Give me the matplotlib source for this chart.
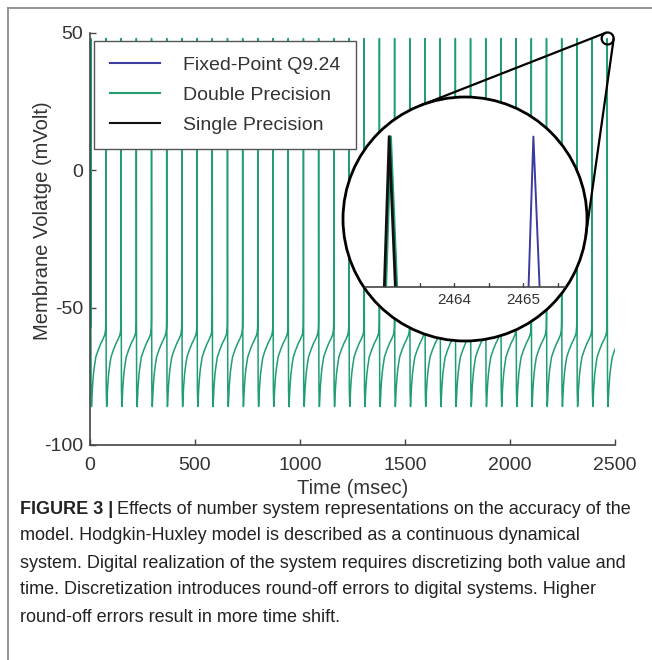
import numpy as np
import matplotlib
matplotlib.use("Agg")
import matplotlib.pyplot as plt
from matplotlib.patches import Circle
from matplotlib.lines import Line2D

plt.rcParams['font.family'] = ['Liberation Sans', 'DejaVu Sans']
plt.rcParams['axes.unicode_minus'] = False

# spike peak times of the double precision run (ms)
double_spikes = [3.6, 75.9, 148.3, 220.6, 293.0, 365.3, 437.6, 510.0, 582.3,
                 654.7, 727.0, 799.3, 871.7, 944.0, 1016.4, 1088.7, 1161.0,
                 1233.4, 1305.7, 1378.1, 1450.4, 1522.7, 1595.1, 1667.4,
                 1739.8, 1812.1, 1884.4, 1956.8, 2029.1, 2101.5, 2173.8,
                 2246.1, 2318.5, 2390.8, 2463.08]

# one action potential and its recovery: time from the peak (ms), voltage (mV)
wave_dt = [-1.2, -0.6, -0.3, -0.07, 0.0, 0.09, 0.5, 1.5, 3.5, 5.0, 8.0,
           13.0, 18.0, 24.0, 35.0, 48.0, 58.0, 66.0, 69.0, 71.0]
wave_mv = [-57, -55, -45, 0, 48, 0, -50, -80, -86, -84, -79,
           -74, -71, -68, -65.5, -63, -61.5, -60, -59, -57.5]

# last spike of each run, shown in the magnifier
series_names = ['Fixed-Point Q9.24', 'Double Precision', 'Single Precision']
series_colors = ['#3b3ba0', '#1f9e6e', '#111111']
inset_peaks = [2465.15, 2463.08, 2463.06]

x_ticks = [0, 500, 1000, 1500, 2000, 2500]
y_ticks = [-100, -50, 0, 50]
inset_ticks = [2463, 2463.5, 2464, 2464.5, 2465, 2465.5]
inset_tick_labels = ['', '', '2464', '', '2465', '']

caption_lines = [
    "Effects of number system representations on the accuracy of the",
    "model. Hodgkin-Huxley model is described as a continuous dynamical",
    "system. Digital realization of the system requires discretizing both value and",
    "time. Discretization introduces round-off errors to digital systems. Higher",
    "round-off errors result in more time shift.",
]


def spike_train(peaks):
    t = np.concatenate([p + np.array(wave_dt) for p in peaks])
    v = np.tile(wave_mv, len(peaks))
    return t, v


W, H = 652, 660
FS = 14
fig = plt.figure(figsize=(W / 100, H / 100), dpi=100)

# main panel
ax = fig.add_axes([90 / W, 1 - 445 / H, 525 / W, 412 / H])
t, v = spike_train(double_spikes)
ax.plot(t, v, color=series_colors[1], lw=1.1)
ax.set_xlim(0, 2500)
ax.set_ylim(-100, 50)
ax.set_xticks(x_ticks)
ax.set_yticks(y_ticks)
for s in ['top', 'right']:
    ax.spines[s].set_visible(False)
for s in ['left', 'bottom']:
    ax.spines[s].set_color('#444444')
    ax.spines[s].set_linewidth(1.2)
ax.tick_params(direction='in', length=4, width=1, colors='#444444',
               labelcolor='#333333', labelsize=FS, pad=5)
ax.tick_params(axis='x', pad=8.5)
ax.set_xlabel('Time (msec)', fontsize=FS + 0.5, color='#333333', labelpad=4)
ax.set_ylabel('Membrane Volatge (mVolt)', fontsize=FS + 0.5, color='#333333')
ax.yaxis.set_label_coords(-0.072, 0.544)

handles = [Line2D([], [], color=c, lw=1.5) for c in series_colors]
leg = ax.legend(handles, series_names, loc='upper left',
                bbox_to_anchor=(4 / 525, (445 - 41) / 412), borderaxespad=0,
                fancybox=False, framealpha=1, edgecolor='#555555',
                fontsize=FS, handlelength=2.6, handletextpad=1.2,
                labelspacing=0.63, borderpad=0.8)
leg.get_frame().set_linewidth(1.0)
for txt in leg.get_texts():
    txt.set_color('#333333')

# overlay in pixel units (y down) for the magnifier
ov = fig.add_axes([0, 0, 1, 1], zorder=1)
ov.set_xlim(0, W)
ov.set_ylim(H, 0)
ov.axis('off')
ov.patch.set_visible(False)

cx, cy, r1 = 465, 219, 122
ov.add_patch(Circle((cx, cy), r1, facecolor='white', edgecolor='none'))

# small circle around the zoomed spike in the main panel
dx, dy = ax.transData.transform((2465, 48))
sx, sy, r2 = dx, H - dy, 6
ov.add_patch(Circle((sx, sy), r2, facecolor='none', edgecolor='black', lw=1.6))

# outer tangents between the two circles
d = np.array([sx - cx, sy - cy])
dist = np.hypot(*d)
base = np.arctan2(d[1], d[0])
off = np.arccos((r1 - r2) / dist)
for a in [base + off, base - off]:
    n = np.array([np.cos(a), np.sin(a)])
    p1 = np.array([cx, cy]) + r1 * n
    p2 = np.array([sx, sy]) + r2 * n
    ov.plot([p1[0], p2[0]], [p1[1], p2[1]], color='black', lw=1.6)

# magnified view
ins = fig.add_axes([343 / W, 1 - 287 / H, 244 / W, 188 / H], zorder=2)
ins.patch.set_visible(False)
clip = Circle((cx, cy), r1, transform=ov.transData)
lws = [1.4, 2.0, 2.0]
for peak, c, lw in zip(inset_peaks, series_colors, lws):
    ti, vi = spike_train([peak])
    ln, = ins.plot(ti, vi, color=c, lw=lw)
    ln.set_clip_path(clip)
ins.set_xlim(2462.391, 2465.927)
ins.set_ylim(0, 60)
for s in ['top', 'right', 'left']:
    ins.spines[s].set_visible(False)
ins.spines['bottom'].set_color('#444444')
ins.spines['bottom'].set_linewidth(1.2)
ins.spines['bottom'].set_clip_path(clip)
ins.set_yticks([])
ins.set_xticks(inset_ticks)
ins.set_xticklabels(inset_tick_labels)
ins.tick_params(axis='x', direction='in', length=3, width=1, colors='#444444',
                labelcolor='#333333', labelsize=11, pad=4)
for tk in ins.xaxis.get_major_ticks():
    tk.tick1line.set_clip_path(clip)
    tk.label1.set_clip_path(clip)
ins.add_patch(Circle((cx, cy), r1, facecolor='none', edgecolor='black',
                     lw=2.0, transform=ov.transData, clip_on=False))

# page frame
fig.add_artist(Line2D([8 / W, 1], [1 - 8 / H, 1 - 8 / H], transform=fig.transFigure,
                      color='#8c8c8c', lw=1.3))
fig.add_artist(Line2D([8 / W, 8 / W], [0, 1 - 8 / H], transform=fig.transFigure,
                      color='#8c8c8c', lw=1.3))

# caption
cap_size = 13
fig.canvas.draw()
renderer = fig.canvas.get_renderer()
head = fig.text(20 / W, 1 - 509 / H, 'FIGURE 3 |', fontsize=cap_size, weight='bold',
                color='#222222', va='center')
bb = head.get_window_extent(renderer)
fig.text((bb.x1 + 4) / W, 1 - 509 / H, caption_lines[0], fontsize=cap_size,
         color='#222222', va='center')
for i, line in enumerate(caption_lines[1:]):
    fig.text(20 / W, 1 - (509 + 27 * (i + 1)) / H, line, fontsize=cap_size,
             color='#222222', va='center')

fig.savefig('out.png', dpi=100)
